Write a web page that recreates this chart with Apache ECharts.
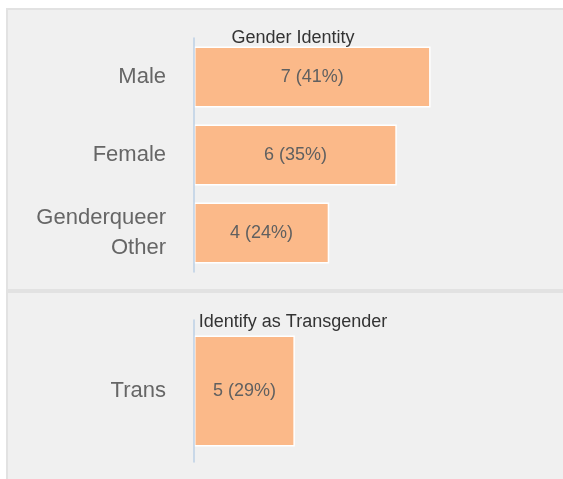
<!DOCTYPE html>
<html>
<head>
<meta charset="utf-8">
<script src="https://cdn.jsdelivr.net/npm/echarts@6/dist/echarts.min.js"></script>
<style>
  html, body { margin: 0; padding: 0; background: #fff; }
  #chart { width: 563px; height: 479px; }
</style>
</head>
<body>
<div id="chart"></div>
<script>
// data
var totalRespondents = 17;
var genderCategories = ["Male", "Female", "Genderqueer\nOther"];
var genderCounts = [7, 6, 4];
var transCategories = ["Trans"];
var transCounts = [5];

var barColor = "#fbb989";
var labelFont = "Liberation Sans, Arial, sans-serif";

function pctLabel(p) {
  return p.value + " (" + Math.round((p.value / totalRespondents) * 100) + "%)";
}

var chart = echarts.init(document.getElementById("chart"));

var catAxis = function (gridIndex, data) {
  return {
    type: "category",
    gridIndex: gridIndex,
    data: data,
    inverse: true,
    z: 10,
    axisTick: { show: false },
    axisLine: { show: true, lineStyle: { color: "#bcd0e6", width: 1.5 } },
    axisLabel: {
      color: "#666",
      fontSize: 22,
      fontFamily: labelFont,
      margin: 28,
      lineHeight: 30,
      align: "right"
    }
  };
};

var valAxis = function (gridIndex, max) {
  return {
    type: "value",
    gridIndex: gridIndex,
    min: 0,
    max: max,
    show: false
  };
};

var barSeries = function (idx, data) {
  return {
    type: "bar",
    xAxisIndex: idx,
    yAxisIndex: idx,
    data: data,
    barCategoryGap: "22%",
    itemStyle: { color: barColor, borderColor: "#fff", borderWidth: 1.5 },
    label: {
      show: true,
      position: "inside",
      color: "#606060",
      fontSize: 18,
      fontFamily: labelFont,
      formatter: pctLabel
    },
    silent: true
  };
};

var option = {
  backgroundColor: "#fff",
  animation: false,
  graphic: [
    {
      type: "rect",
      z: -10,
      shape: { x: 7, y: 9, width: 560, height: 281 },
      style: { fill: "#f0f0f0", stroke: "#e2e2e2", lineWidth: 2 }
    },
    {
      type: "rect",
      z: -10,
      shape: { x: 7, y: 292, width: 560, height: 190 },
      style: { fill: "#f0f0f0", stroke: "#e2e2e2", lineWidth: 2 }
    }
  ],
  title: [
    {
      text: "Gender Identity",
      left: 288,
      top: 24,
      textAlign: "center",
      textStyle: { color: "#333", fontSize: 18, fontWeight: "normal", fontFamily: labelFont }
    },
    {
      text: "Identify as Transgender",
      left: 288,
      top: 308,
      textAlign: "center",
      textStyle: { color: "#333", fontSize: 18, fontWeight: "normal", fontFamily: labelFont }
    }
  ],
  grid: [
    { left: 194, top: 38, width: 338, height: 234 },
    { left: 194, top: 320, width: 343, height: 142 }
  ],
  xAxis: [valAxis(0, 10), valAxis(1, totalRespondents)],
  yAxis: [catAxis(0, genderCategories), catAxis(1, transCategories)],
  series: [barSeries(0, genderCounts), barSeries(1, transCounts)]
};

chart.setOption(option);
</script>
</body>
</html>
